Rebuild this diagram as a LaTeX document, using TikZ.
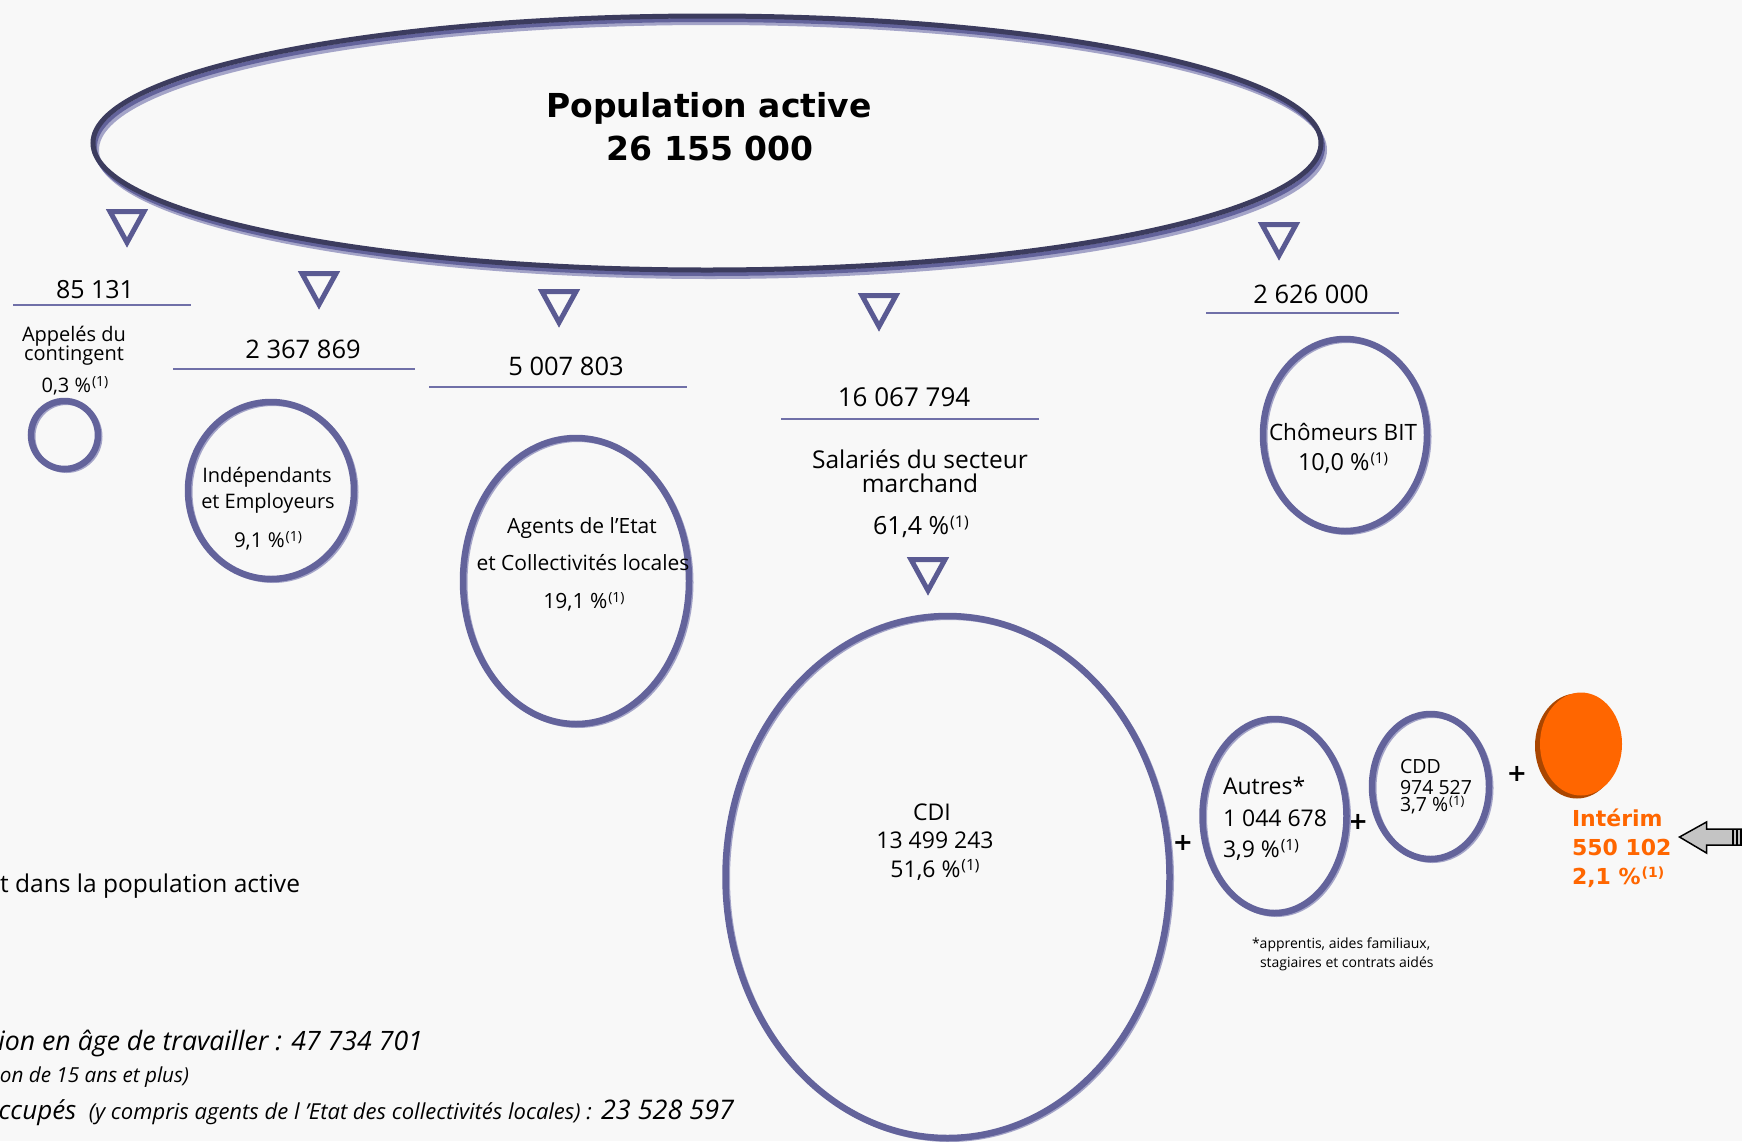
\documentclass[tikz,border=0pt]{standalone}
\usepackage{fontspec}
\setmainfont{Open Sans}
\newfontfamily\dejavu{DejaVu Sans}
\usetikzlibrary{shapes.geometric}
\definecolor{bg}{RGB}{248,248,248}
\definecolor{ringmid}{RGB}{99,99,155}
\definecolor{ringdark}{RGB}{60,60,94}
\definecolor{ringlight}{RGB}{164,164,200}
\definecolor{rulecol}{RGB}{112,112,168}
\definecolor{tricol}{RGB}{90,90,146}
\definecolor{interim}{RGB}{255,102,0}
\definecolor{interimdark}{RGB}{170,70,0}
\definecolor{arrowgrey}{RGB}{196,196,196}
\newcommand\fs[1]{\fontsize{#1}{#1}\selectfont}
\newcommand\pone[1]{\kern1pt\raisebox{0.28em}{\fs{#1}(1)}}
\tikzset{
  ring/.style={ellipse, draw=ringmid, line width=6.5},
  tri/.style={draw=tricol, line width=5, line join=miter},
  rulestyle/.style={draw=rulecol, line width=2},
  lbl/.style={anchor=base},
  lblw/.style={anchor=base west},
  lble/.style={anchor=base east},
  plus/.style={font=\dejavu\bfseries\fs{24}},
}
\newcommand\ringat[5]{%
  \draw[ringlight, line width=5] ({#2+2},{#3+1.5}) ellipse [x radius=#4, y radius=#5];
  \node[ring, minimum width={2*#4}, minimum height={2*#5}] (#1) at (#2,#3) {};}
\newcommand\dtri[2]{%
  \draw[tri] ({#1-17},{#2+2.5}) -- ({#1+17},{#2+2.5}) -- (#1,{#2+33.5}) -- cycle;}
\begin{document}
\begin{tikzpicture}[x=1pt,y=-1pt, every node/.style={inner sep=0pt, outer sep=0pt}]
\fill[bg] (0,0) rectangle (1742,1141);
\useasboundingbox (0,0) rectangle (1742,1141);

% big ellipse
\draw[ringlight, line width=4] (711,150) ellipse [x radius=614, y radius=127];
\draw[ringmid, line width=4] (709,147) ellipse [x radius=614, y radius=127];
\node[ellipse, draw=ringdark, line width=5, minimum width=1228, minimum height=254] (pop) at (707,143) {};
\node[lbl, font=\dejavu\bfseries\fs{33}] (title1) at (709,117) {Population active};
\node[lbl, font=\dejavu\bfseries\fs{33}] (title2) at (710,160) {26 155 000};

% triangles
\dtri{127}{209}
\dtri{319}{271}
\dtri{559}{289}
\dtri{879}{293}
\dtri{928}{557}
\dtri{1279}{222}

% Appelés
\node[lbl, font=\fs{25}] (n1) at (95,298) {85 131};
\draw[rulestyle] (13,305) -- (191,305);
\node[lbl, font=\fs{20}] (app1) at (74,341) {Appelés du};
\node[lbl, font=\fs{20}] (app2) at (74,360) {contingent};
\node[lbl, font=\fs{20}] (app3) at (75,392) {0,3 \%\pone{14}};
\ringat{appc}{64.5}{435}{33.5}{34}

% Indépendants
\node[lbl, font=\fs{25.5}] (n2) at (303,358) {2 367 869};
\draw[rulestyle] (173,369) -- (415,369);
\ringat{indc}{271}{490.5}{83}{88.5}
\node[lbl, font=\fs{20}] (ind1) at (267,482) {Indépendants};
\node[lbl, font=\fs{20}] (ind2) at (268,508) {et Employeurs};
\node[lbl, font=\fs{20.5}] (ind3) at (268,547) {9,1 \%\pone{14}};

% Agents
\node[lbl, font=\fs{25.5}] (n3) at (566,375) {5 007 803};
\draw[rulestyle] (429,387) -- (687,387);
\ringat{agc}{576}{581}{113}{143}
\node[lbl, font=\fs{21}] (ag1) at (582,533) {Agents de l’Etat};
\node[lbl, font=\fs{21}] (ag2) at (583,570) {et Collectivités locales};
\node[lbl, font=\fs{21}] (ag3) at (584,608) {19,1 \%\pone{14}};

% Salariés
\node[lbl, font=\fs{26}] (n4) at (904,406) {16 067 794};
\draw[rulestyle] (781,419) -- (1039,419);
\node[lbl, font=\fs{24.5}] (sal1) at (920,468) {Salariés du secteur};
\node[lbl, font=\fs{24.5}] (sal2) at (920,492) {marchand};
\node[lbl, font=\fs{25}] (sal3) at (921,534) {61,4 \%\pone{16}};

% CDI
\ringat{cdic}{947.5}{877}{222}{261}
\node[lbl, font=\fs{23}] (cdi1) at (932,820) {CDI};
\node[lbl, font=\fs{23}] (cdi2) at (935,848) {13 499 243};
\node[lbl, font=\fs{23}] (cdi3) at (935,877) {51,6 \%\pone{15.5}};

% plus signs
\node[plus] (p1) at (1183,843) {+};
\node[plus] (p2) at (1358,822) {+};
\node[plus] (p3) at (1517,774) {+};

% Autres
\ringat{autc}{1274.5}{816}{72}{97}
\node[lblw, font=\fs{23}] (aut1) at (1223,794) {Autres*};
\node[lblw, font=\fs{23}] (aut2) at (1223,826) {1 044 678};
\node[lblw, font=\fs{23}] (aut3) at (1223,857) {3,9 \%\pone{15.5}};
\node[lblw, font=\fs{14}] (foot1) at (1252,948) {*apprentis, aides familiaux,};
\node[lblw, font=\fs{14}] (foot2) at (1260,967) {stagiaires et contrats aidés};

% CDD
\ringat{cddc}{1430.5}{786.5}{58.5}{72.5}
\node[lblw, font=\fs{19.5}] (cdd1) at (1400,773) {CDD};
\node[lblw, font=\fs{19.5}] (cdd2) at (1400,794) {974 527};
\node[lblw, font=\fs{19.5}] (cdd3) at (1400,811) {3,7 \%\pone{13}};

% Intérim
\fill[interimdark] (1577,746) ellipse [x radius=42, y radius=52.5];
\node[ellipse, fill=interim, minimum width=82, minimum height=103] (orangec) at (1581,744) {};
\node[lblw, font=\dejavu\bfseries\fs{22}, text=interim] (int1) at (1572,826) {Intérim};
\node[lblw, font=\dejavu\bfseries\fs{22}, text=interim] (int2) at (1572,855) {550 102};
\node[lblw, font=\dejavu\bfseries\fs{22}, text=interim] (int3) at (1572,884) {2,1 \%\pone{14}};

% grey arrow
\coordinate (arrowtip) at ([xshift=8pt]int2.east |- 0,837);
\filldraw[fill=arrowgrey, draw=black, line width=1.5] (arrowtip) -- ++(27,-15) -- ++(0,7) -- ++(50,0) -- ++(0,16) -- ++(-50,0) -- ++(0,8) -- cycle;
\draw[black, line width=1.5] (1733,829) -- (1733,845) (1737,829) -- (1737,845) (1741,829) -- (1741,845);

% Chômeurs
\node[lbl, font=\fs{25.5}] (n5) at (1311,303) {2 626 000};
\draw[rulestyle] (1206,313) -- (1399,313);
\ringat{chc}{1345}{435}{82}{96}
\node[lbl, font=\fs{22.5}] (ch1) at (1343,440) {Chômeurs BIT};
\node[lbl, font=\fs{23.5}] (ch2) at (1343,470) {10,0 \%\pone{15}};

% bottom-left texts
\node[lble, font=\fs{24.5}] (bl1) at (300,892) {t dans la population active};
\node[lble, font=\itshape\fs{26.7}] (bl2) at (423,1050) {ion en âge de travailler : 47 734 701};
\node[lble, font=\itshape\fs{20.7}] (bl3) at (189,1082) {on de 15 ans et plus)};
\node[lble, font=\itshape\fs{26}] (bl4) at (734,1119) {ccupés {\fs{22} (y compris agents de l ’Etat des collectivités locales) :} {\fs{27}23 528 597}};
\end{tikzpicture}
\end{document}
